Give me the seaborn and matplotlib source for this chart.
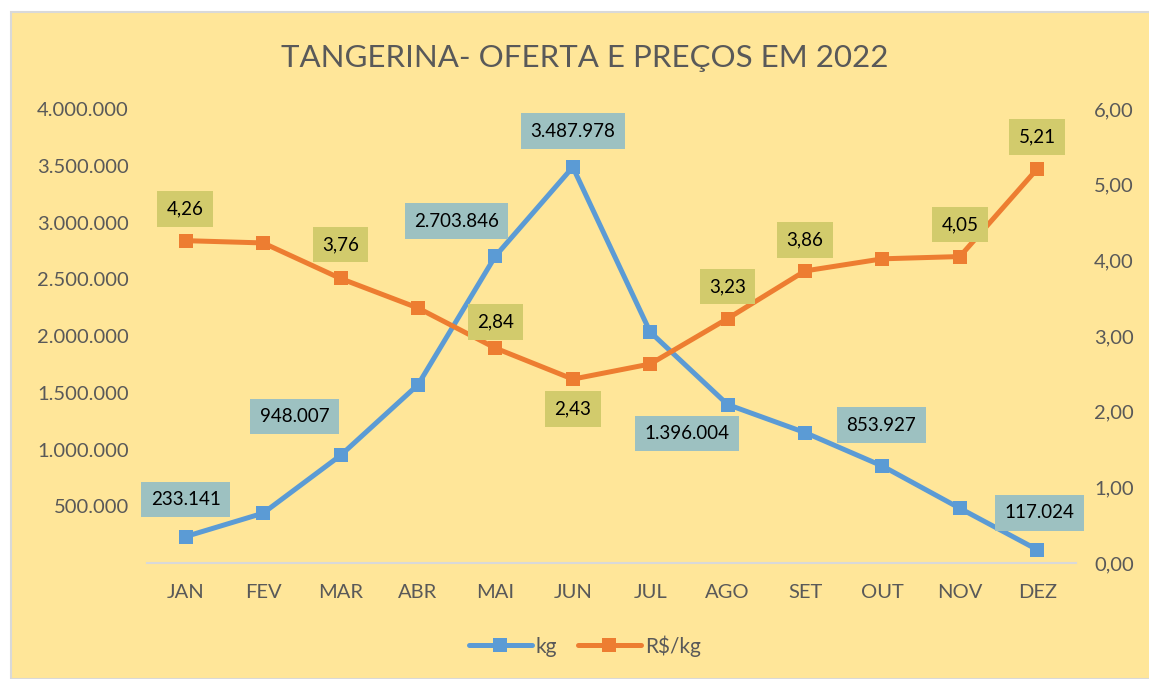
import numpy as np
import pandas as pd
import seaborn as sns
import matplotlib.pyplot as plt
from matplotlib.patches import Rectangle
from matplotlib.lines import Line2D
from matplotlib.ticker import FuncFormatter

MONTHS = ["JAN", "FEV", "MAR", "ABR", "MAI", "JUN", "JUL", "AGO", "SET", "OUT", "NOV", "DEZ"]
KG = [233141, 439000, 948007, 1570000, 2703846, 3487978, 2035000, 1396004, 1149000, 853927, 482000, 117024]
PRICE = [4.26, 4.23, 3.76, 3.37, 2.84, 2.43, 2.63, 3.23, 3.86, 4.02, 4.05, 5.21]

# which points carry a data label, with their offset (pixels) from the point
KG_LABELS = {0: (0, 37), 2: (-46, 39), 4: (-39, 35), 5: (0, 36), 7: (-41, -29), 9: (-1, 41), 11: (2, 37)}
PRICE_LABELS = {0: (-1, 32), 2: (0, 34), 4: (0, 26), 5: (0, -30), 7: (0, 32), 8: (0, 31), 10: (0, 32), 11: (0, 32)}

BG = "#FFE699"
BLUE = "#5B9BD5"
ORANGE = "#ED7D31"
TXT = "#595959"
KG_BOX = "#9DC1C1"
PRICE_BOX = "#D2CB6C"

df = pd.DataFrame({"mes": MONTHS, "kg": KG, "preco": PRICE})
df["x"] = np.arange(len(df))

sns.set_theme(style="white")
plt.rcParams["font.family"] = ["Lato", "DejaVu Sans"]

fig = plt.figure(figsize=(11.49, 6.79), dpi=100)
fig.patch.set_facecolor("white")
fig.patches.append(Rectangle((11 / 1149, 0), 1, 1 - 12 / 679, transform=fig.transFigure,
                             facecolor=BG, edgecolor="#D9D9D9", lw=1.5, zorder=-10))

ax = fig.add_axes([147 / 1149, 1 - 563 / 679, 929 / 1149, 454 / 679])
ax.set_facecolor("none")
ax2 = ax.twinx()
ax2.set_facecolor("none")

sns.lineplot(data=df, x="x", y="kg", ax=ax, color=BLUE, lw=3.6, marker="s",
             markersize=10, markeredgewidth=0, zorder=3)
sns.lineplot(data=df, x="x", y="preco", ax=ax2, color=ORANGE, lw=3.6, marker="s",
             markersize=10, markeredgewidth=0, zorder=3)

ax.set_xlim(-0.5, len(MONTHS) - 0.5)
ax.set_ylim(0, 4000000)
ax2.set_ylim(0, 6)
ax.set_yticks(np.arange(500000, 4000001, 500000))
ax2.set_yticks(np.arange(0, 7, 1))
ax.yaxis.set_major_formatter(FuncFormatter(lambda v, p: f"{int(v):,}".replace(",", ".")))
ax2.yaxis.set_major_formatter(FuncFormatter(lambda v, p: f"{v:.2f}".replace(".", ",")))
ax.set_xticks(df["x"])
ax.set_xticklabels(MONTHS)
ax.set_xlabel("")
ax.set_ylabel("")
ax2.set_ylabel("")

for a in (ax, ax2):
    for s in a.spines.values():
        s.set_visible(False)
    a.tick_params(length=0, labelsize=14.5, labelcolor=TXT)
ax.spines["bottom"].set_visible(True)
ax.spines["bottom"].set_color("#D9D9D9")
ax.spines["bottom"].set_linewidth(1.5)
ax.tick_params(axis="x", pad=15)
ax.tick_params(axis="y", pad=13)
ax2.tick_params(axis="y", pad=13)

for i, (dx, dy) in KG_LABELS.items():
    ax.annotate(f"{KG[i]:,}".replace(",", "."), (df["x"][i], KG[i]), xytext=(dx, dy),
                textcoords="offset pixels", ha="center", va="center", fontsize=13.5, color="black",
                bbox=dict(boxstyle="square,pad=0.5", fc=KG_BOX, ec="none"), zorder=5)
for i, (dx, dy) in PRICE_LABELS.items():
    ax2.annotate(f"{PRICE[i]:.2f}".replace(".", ","), (df["x"][i], PRICE[i]), xytext=(dx, dy),
                 textcoords="offset pixels", ha="center", va="center", fontsize=13.5, color="black",
                 bbox=dict(boxstyle="square,pad=0.5", fc=PRICE_BOX, ec="none"), zorder=5)

fig.text(585 / 1149, 1 - 58 / 679, "TANGERINA- OFERTA E PREÇOS EM 2022", ha="center", va="center",
         fontsize=22.5, color=TXT)

handles = [Line2D([], [], color=BLUE, lw=3.6, marker="s", markersize=10, markeredgewidth=0),
           Line2D([], [], color=ORANGE, lw=3.6, marker="s", markersize=10, markeredgewidth=0)]
fig.legend(handles, ["kg", "R$/kg"], loc="center", bbox_to_anchor=(585 / 1149, 1 - 646 / 679),
           ncol=2, frameon=False, fontsize=15, labelcolor=TXT, handlelength=3, columnspacing=1.0,
           handletextpad=0.2)

fig.savefig("out.png", dpi=100, facecolor=fig.get_facecolor())
